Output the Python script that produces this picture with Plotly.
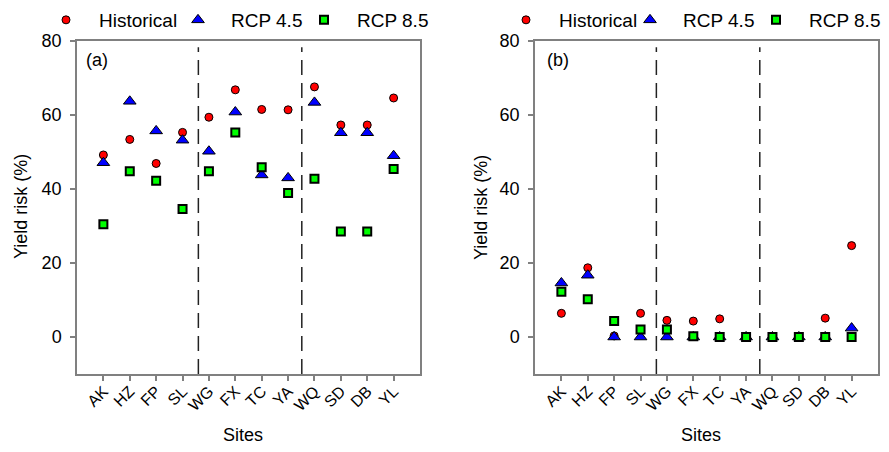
import plotly.graph_objects as go

sites = ["AK", "HZ", "FP", "SL", "WG", "FX", "TC", "YA", "WQ", "SD", "DB", "YL"]
site_pos = list(range(1, 13))

# Panel (a)
a_hist = [49.2, 53.4, 46.9, 55.3, 59.4, 66.8, 61.5, 61.4, 67.6, 57.3, 57.3, 64.6]
a_rcp45 = [47.1, 63.7, 55.7, 53.2, 50.2, 60.8, 43.8, 43.0, 63.4, 55.2, 55.2, 49.0]
a_rcp85 = [30.5, 44.8, 42.2, 34.6, 44.8, 55.3, 45.9, 38.9, 42.8, 28.5, 28.5, 45.4]

# Panel (b)
b_hist = [6.4, 18.7, 0.3, 6.4, 4.5, 4.3, 4.9, 0.0, 0.0, 0.0, 5.1, 24.7]
b_rcp45 = [14.6, 16.7, 0.0, 0.0, 0.0, 0.0, 0.0, 0.0, 0.0, 0.0, 0.0, 2.4]
b_rcp85 = [12.2, 10.2, 4.3, 2.0, 2.0, 0.2, 0.0, 0.0, 0.0, 0.0, 0.0, 0.0]

series_names = ["Historical", "RCP 4.5", "RCP 8.5"]
y_ticks = [0, 20, 40, 60, 80]
group_breaks = [4.6, 8.52]

FONT = "Liberation Sans, Arial, sans-serif"
styles = [
    dict(symbol="circle", size=8, color="#FF0000", line=dict(color="black", width=1)),
    dict(symbol="triangle-up", size=11, color="#0000FF", line=dict(color="black", width=1)),
    dict(symbol="square", size=8, color="#00FF00", line=dict(color="black", width=2)),
]

# page body has an 8px margin: figure is drawn 8px in from the window edge
OFF = 8
W = 889 - 2 * OFF
H = 452 - 2 * OFF


def px(X):
    return (X - OFF) / W


def py(Y):
    return 1 - (Y - OFF) / H


# legend marker screen positions for each panel
legend_marker_x = [[67, 199, 325], [527, 651, 777]]

fig = go.Figure()
leg_i = 0
layout_legends = {}
for panel, (data, xa, ya) in enumerate([
    ((a_hist, a_rcp45, a_rcp85), "x", "y"),
    ((b_hist, b_rcp45, b_rcp85), "x2", "y2"),
]):
    for k, (name, vals, st) in enumerate(zip(series_names, data, styles)):
        leg_i += 1
        lname = "legend" if leg_i == 1 else f"legend{leg_i}"
        fig.add_trace(go.Scatter(
            x=site_pos, y=vals, mode="markers", name=name,
            marker=st, xaxis=xa, yaxis=ya, legend=lname, showlegend=True,
        ))
        mx = legend_marker_x[panel][k]
        layout_legends[lname] = dict(
            orientation="h", x=px(mx) - 34 / W, y=py(20), xanchor="left", yanchor="middle",
            font=dict(size=19), itemwidth=56, bgcolor="rgba(0,0,0,0)", borderwidth=0,
        )

axis_common = dict(
    showgrid=False, zeroline=False, showline=True, mirror=True,
    linecolor="#808080", linewidth=1.5, ticks="outside", ticklen=5,
    tickcolor="#808080", tickwidth=1.5, automargin=False,
)
ydom = [py(374), py(41)]
fig.update_layout(
    width=W, height=H, margin=dict(l=0, r=0, t=0, b=0, autoexpand=False),
    paper_bgcolor="white", plot_bgcolor="white",
    font=dict(family=FONT, color="black"),
    xaxis=dict(domain=[px(77), px(420)], range=[0, 13], tickvals=site_pos, ticktext=sites,
               tickangle=-45, tickfont=dict(size=16), anchor="y", ticklabelstandoff=-5,
               **axis_common),
    yaxis=dict(domain=ydom, range=[-10, 80], tickvals=y_ticks, tickfont=dict(size=18),
               anchor="x", ticklabelstandoff=5, **axis_common),
    xaxis2=dict(domain=[px(535), px(878)], range=[0, 13], tickvals=site_pos, ticktext=sites,
                tickangle=-45, tickfont=dict(size=16), anchor="y2", ticklabelstandoff=-5,
                **axis_common),
    yaxis2=dict(domain=ydom, range=[-10, 80], tickvals=y_ticks, tickfont=dict(size=18),
                anchor="x2", ticklabelstandoff=5, **axis_common),
    **layout_legends,
)

for xr, yr in [("x", "y"), ("x2", "y2")]:
    for xb in group_breaks:
        fig.add_shape(type="line", xref=xr, yref=yr, x0=xb, x1=xb, y0=-10, y1=78.3,
                      line=dict(color="#222222", width=1.5, dash="15px,8px"))

annots = [
    dict(text="(a)", x=px(97), y=py(60), font=dict(size=18)),
    dict(text="(b)", x=px(558), y=py(60), font=dict(size=18)),
    dict(text="Yield risk (%)", x=px(21), y=py(207), font=dict(size=18), textangle=-90),
    dict(text="Yield risk (%)", x=px(481), y=py(207), font=dict(size=18), textangle=-90),
    dict(text="Sites", x=px(243), y=py(435), font=dict(size=18)),
    dict(text="Sites", x=px(701), y=py(435), font=dict(size=18)),
]
for a in annots:
    fig.add_annotation(xref="paper", yref="paper", showarrow=False,
                       xanchor="center", yanchor="middle", **a)

fig.write_html("out.html")
